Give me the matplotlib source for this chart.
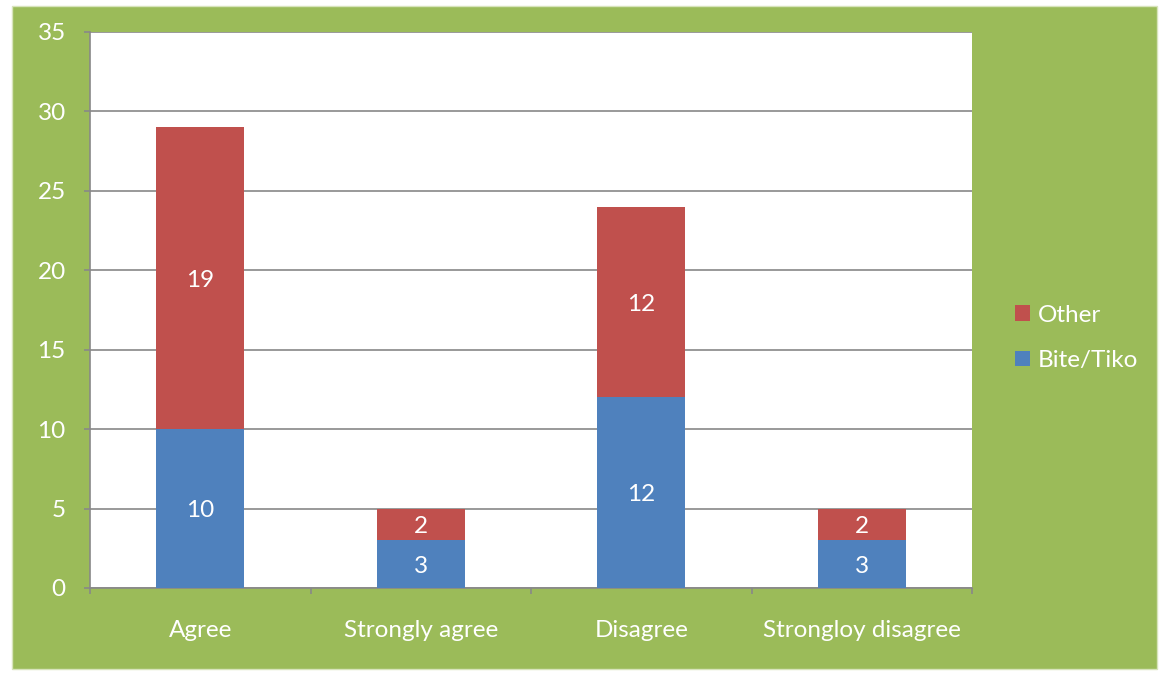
import matplotlib.pyplot as plt
from matplotlib.patches import Rectangle
import numpy as np

categories = ["Agree", "Strongly agree", "Disagree", "Strongloy disagree"]
bite_tiko = [10, 3, 12, 3]
other = [19, 2, 12, 2]
series_names = ["Bite/Tiko", "Other"]

blue = "#4F81BD"
red = "#C0504D"
green = "#9BBB59"
grey = "#888888"

plt.rcParams["font.family"] = ["Lato", "DejaVu Sans"]
fs = 17.5

W, H = 1163, 673
fig = plt.figure(figsize=(W / 100, H / 100), dpi=100)
fig.patch.set_facecolor("white")
fig.patches.append(Rectangle((12 / W, 1 - 669 / H), (1157 - 12) / W, (669 - 6) / H,
                             transform=fig.transFigure, facecolor=green,
                             edgecolor="#d8e4bc", lw=1, zorder=-10))

ax = fig.add_axes([90 / W, 1 - 588 / H, 882 / W, 556 / H])
ax.set_zorder(1)
ax.set_facecolor("white")

x = np.arange(len(categories))
b1 = ax.bar(x, bite_tiko, width=0.4, color=blue, zorder=3, label=series_names[0])
b2 = ax.bar(x, other, width=0.4, bottom=bite_tiko, color=red, zorder=3,
            label=series_names[1])

# value labels in the middle of each segment
for bars, vals, base in [(b1, bite_tiko, [0] * 4), (b2, other, bite_tiko)]:
    for rect, v, b in zip(bars, vals, base):
        ax.text(rect.get_x() + rect.get_width() / 2, b + v / 2, str(v),
                ha="center", va="center_baseline", color="white", fontsize=fs,
                zorder=4)

ax.set_xlim(-0.5, 3.5)
ax.set_ylim(0, 35)
ax.set_yticks(np.arange(0, 36, 5))
ax.yaxis.grid(True, color=grey, lw=1.2, zorder=1)
ax.set_axisbelow(True)

ax.set_xticks(np.arange(-0.5, 4, 1))
ax.set_xticklabels([])
ax.set_xticks(x, minor=True)
ax.set_xticklabels(categories, minor=True)
ax.tick_params(axis="x", which="minor", length=0, pad=23, labelsize=fs,
               labelcolor="white")
ax.tick_params(axis="x", which="major", length=4.5, color=grey, width=1.2)
ax.tick_params(axis="y", length=4.5, color=grey, width=1.2, labelsize=fs,
               labelcolor="white", pad=13)

for s in ["top", "right"]:
    ax.spines[s].set_visible(False)
for s in ["left", "bottom"]:
    ax.spines[s].set_color(grey)
    ax.spines[s].set_linewidth(1.2)

handles = [b2, b1]
leg = ax.legend(handles, [series_names[1], series_names[0]],
                loc="center left", bbox_to_anchor=(1.024, 0.45), frameon=False,
                fontsize=fs, handlelength=0.6, handleheight=0.6,
                handletextpad=0.35, labelspacing=1.0)
for t in leg.get_texts():
    t.set_color("white")

fig.savefig("out.png", dpi=100)
